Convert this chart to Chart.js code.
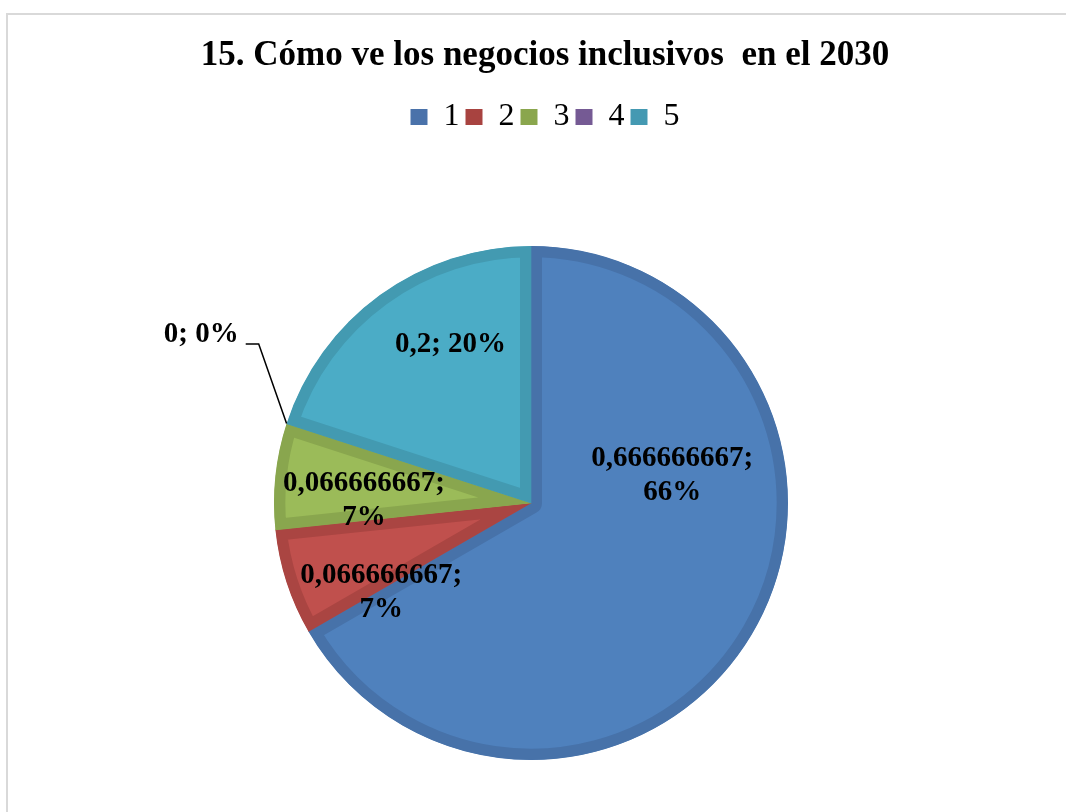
<!DOCTYPE html>
<html>
<head>
<meta charset="utf-8">
<script src="https://cdn.jsdelivr.net/npm/chart.js@4/dist/chart.umd.min.js"></script>
<style>
  html, body { margin: 0; padding: 0; background: #ffffff; overflow: hidden; }
  #frame { position: absolute; left: 6px; top: 13px; width: 2000px; height: 2000px; border: 2px solid #d9d9d9; box-sizing: border-box; }
  #c { position: absolute; left: 0; top: 0; }
</style>
</head>
<body>
<div id="frame"></div>
<canvas id="c" width="1066" height="812"></canvas>
<script>
// ---- data ----
const chartTitle = '15. Cómo ve los negocios inclusivos  en el 2030';
const categories = ['1', '2', '3', '4', '5'];
const values = [0.666666667, 0.066666667, 0.066666667, 0, 0.2];
const percentLabels = ['66%', '7%', '7%', '0%', '20%'];

// ---- styles ----
const fillColors   = ['#4F81BD', '#C0504D', '#9BBB59', '#8064A2', '#4BACC6'];
const borderColors = ['#4772A9', '#AA4542', '#89A64E', '#715990', '#439AB1'];
const legendColors = ['#4A72AA', '#A84340', '#8AA64D', '#755A94', '#4499B2'];
// label placement: angle shift from slice middle (deg), distance as fraction of radius
const labelAngleShift = [-41, -13, -5, 9, 9];
const labelRadius     = [0.56, 0.68, 0.65, 1.44, 0.69];
const labelTwoLines   = [true, true, true, false, false];

const serif = "'Liberation Serif', 'Times New Roman', serif";

function makeSpacer(position, size, weight) {
  return {
    position: position, weight: weight, fullSize: false,
    options: {},
    left: 0, top: 0, right: 0, bottom: 0, width: 0, height: 0,
    isHorizontal() { return this.position === 'top' || this.position === 'bottom'; },
    update(maxWidth, maxHeight) {
      if (this.isHorizontal()) { this.width = maxWidth; this.height = size; }
      else { this.width = size; this.height = maxHeight; }
    },
    getPadding() { return {left: 0, top: 0, right: 0, bottom: 0}; },
    draw() {}
  };
}

const spacerPlugin = {
  id: 'spacers',
  beforeInit(chart) {
    Chart.layouts.addBox(chart, makeSpacer('top', 103, 0));
    Chart.layouts.addBox(chart, makeSpacer('right', 28, 0));
  }
};

const labelPlugin = {
  id: 'sliceLabels',
  afterDatasetsDraw(chart) {
    const ctx = chart.ctx;
    const meta = chart.getDatasetMeta(0);
    ctx.save();
    ctx.font = 'bold 29px ' + serif;
    ctx.fillStyle = '#000000';
    ctx.textAlign = 'center';
    ctx.textBaseline = 'middle';
    meta.data.forEach((arc, i) => {
      const p = arc.getProps(['x', 'y', 'startAngle', 'endAngle', 'outerRadius'], true);
      const mid = (p.startAngle + p.endAngle) / 2 + labelAngleShift[i] * Math.PI / 180;
      const r = p.outerRadius * labelRadius[i];
      const lx = p.x + Math.cos(mid) * r;
      const ly = p.y + Math.sin(mid) * r;
      const valueText = String(values[i]).replace('.', ',');
      if (labelTwoLines[i]) {
        ctx.fillText(valueText + ';', lx, ly - 17);
        ctx.fillText(percentLabels[i], lx, ly + 17);
      } else {
        const text = valueText + '; ' + percentLabels[i];
        ctx.fillText(text, lx, ly);
        if (labelRadius[i] > 1) {
          // leader line to the slice edge
          const w = ctx.measureText(text).width;
          const sx = lx + w / 2 + 7, sy = ly + 9;
          const ex = p.x + Math.cos(p.startAngle) * p.outerRadius;
          const ey = p.y + Math.sin(p.startAngle) * p.outerRadius;
          ctx.beginPath();
          ctx.strokeStyle = '#000000';
          ctx.lineWidth = 1.5;
          ctx.moveTo(sx, sy);
          ctx.lineTo(sx + 13, sy);
          ctx.lineTo(ex, ey);
          ctx.stroke();
        }
      }
    });
    ctx.restore();
  }
};

new Chart(document.getElementById('c'), {
  type: 'pie',
  data: {
    labels: categories,
    datasets: [{
      data: values,
      backgroundColor: fillColors,
      borderColor: borderColors,
      borderWidth: 11,
      borderAlign: 'inner'
    }]
  },
  options: {
    responsive: false,
    animation: false,
    events: [],
    layout: { padding: { left: 24, right: 0, top: 0, bottom: 52 } },
    plugins: {
      title: {
        display: true,
        text: chartTitle,
        color: '#000000',
        font: { family: serif, size: 35, weight: 'bold', lineHeight: 1.2 },
        padding: { top: 35, bottom: 18 }
      },
      legend: {
        display: true,
        position: 'top',
        labels: {
          color: '#000000',
          font: { family: serif, size: 32 },
          boxWidth: 17,
          boxHeight: 16,
          padding: 6,
          generateLabels(chart) {
            const items = Chart.overrides.pie.plugins.legend.labels.generateLabels(chart);
            items.forEach((it, i) => { it.fillStyle = legendColors[i]; it.lineWidth = 0; it.strokeStyle = legendColors[i]; });
            return items;
          }
        }
      },
      tooltip: { enabled: false }
    }
  },
  plugins: [spacerPlugin, labelPlugin]
});
</script>
</body>
</html>
